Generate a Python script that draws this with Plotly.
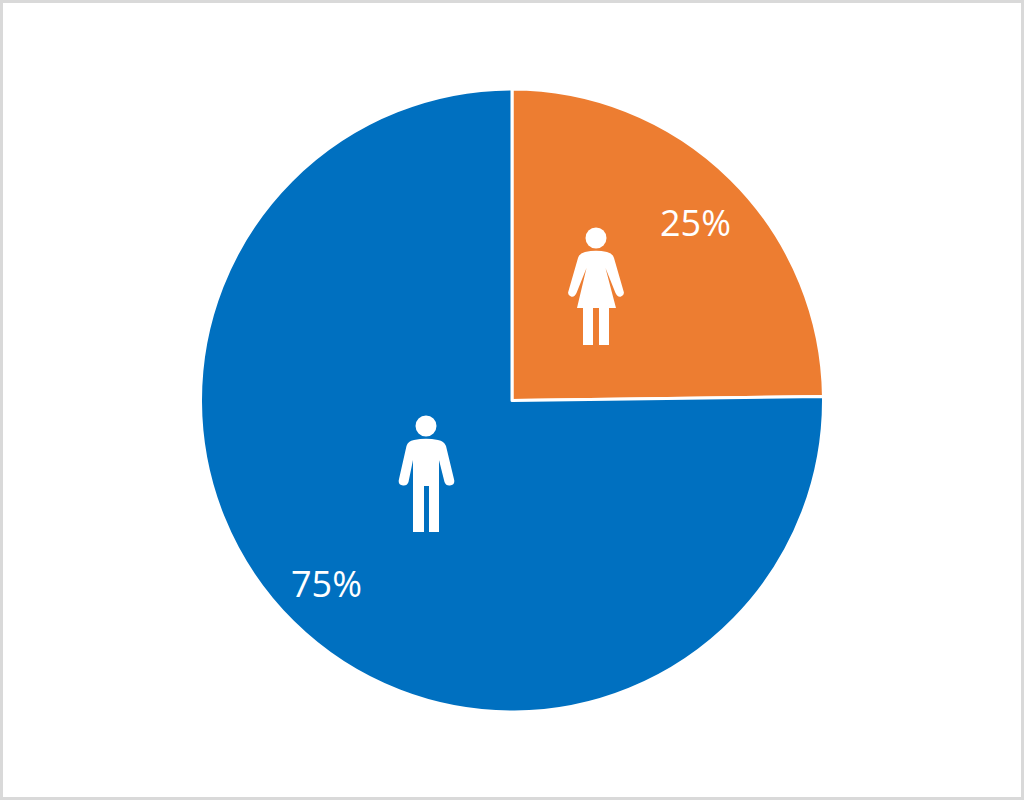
import re
import plotly.graph_objects as go

categories = ["Female", "Male"]
values = [24.8, 75.2]
colors = ["#ED7D31", "#0070C0"]
label_texts = ["25%", "75%"]

W, H = 1024, 800
CX, CY, R = 512, 400.5, 311.5


def pth(s):
    res, i = "", 0
    for t in re.findall(r"[A-Z]|-?[\d.]+", s):
        if t.isalpha():
            res += t
            i = 0
        else:
            v = float(t)
            res += ("," if i % 2 else (" " if i else "")) + (f"{1 - v / H:.5f}" if i % 2 else f"{v / W:.5f}")
            i += 1
    return res


WHITE = dict(fillcolor="white", line=dict(width=0), layer="above")


def head(cx, cy, r):
    return dict(type="circle", xref="paper", yref="paper", x0=(cx - r) / W, x1=(cx + r) / W,
                y0=1 - (cy + r) / H, y1=1 - (cy - r) / H, **WHITE)


male = ("M413 532 L413 460 L408.5 482 Q407 486 403 485.5 Q398 485 398.8 480 L406.5 446 "
        "Q408 441 414 440 Q426 437.5 438 440 Q444 441 446 446 L454.2 480 Q455 485 450 485.5 "
        "Q446 486 444.5 482 L439 460 L439 532 L429 532 L429 486 L424 486 L424 532 Z")
female = ("M583 345 L583 308 L577 308 L586.5 268 L576.5 293 Q574.5 297.5 571 296.5 Q567 295 568.5 291 "
          "L578 258 Q579.5 253 585 252 Q596 249.5 607 252 Q612.5 253 614 258 L623.5 291 "
          "Q625 295 621 296.5 Q617.5 297.5 615.5 293 L605.5 268 L616 308 L609 308 L609 345 "
          "L599 345 L599 308 L593 308 L593 345 Z")

shapes = [
    dict(type="rect", xref="paper", yref="paper", x0=1.5 / W, x1=1 - 1.5 / W, y0=1.5 / H, y1=1 - 1.5 / H,
         line=dict(color="#D9D9D9", width=3), fillcolor="rgba(0,0,0,0)", layer="above"),
    head(426, 426, 10.5),
    dict(type="path", xref="paper", yref="paper", path=pth(male), **WHITE),
    head(596, 238, 10.5),
    dict(type="path", xref="paper", yref="paper", path=pth(female), **WHITE),
]

annotations = [
    dict(text=label_texts[0], x=695 / W, y=1 - 222 / H, xref="paper", yref="paper", showarrow=False,
         font=dict(family="Open Sans", size=36, color="white"), xanchor="center", yanchor="middle"),
    dict(text=label_texts[1], x=326 / W, y=1 - 583 / H, xref="paper", yref="paper", showarrow=False,
         font=dict(family="Open Sans", size=36, color="white"), xanchor="center", yanchor="middle"),
]

fig = go.Figure(go.Pie(
    labels=categories,
    values=values,
    sort=False,
    direction="clockwise",
    rotation=0,
    marker=dict(colors=colors, line=dict(color="white", width=3)),
    textinfo="none",
    showlegend=False,
    domain=dict(x=[(CX - R) / W, (CX + R) / W], y=[1 - (CY + R) / H, 1 - (CY - R) / H]),
))
fig.update_layout(width=W, height=H, margin=dict(l=0, r=0, t=0, b=0),
                  paper_bgcolor="white", shapes=shapes, annotations=annotations)
fig.write_html("out.html", config=dict(displayModeBar=False),
               post_script="document.body.style.margin='0';document.body.style.overflow='hidden';")
